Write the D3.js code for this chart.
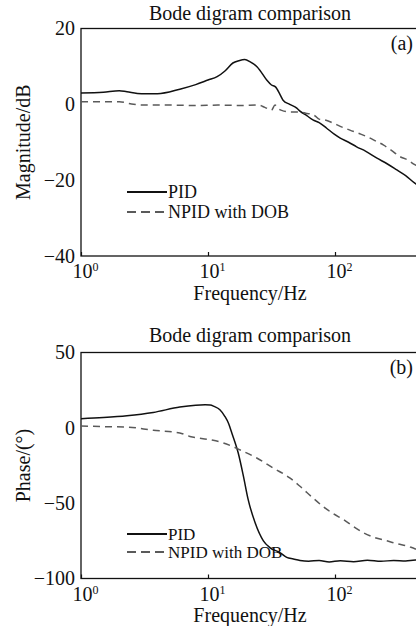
<!DOCTYPE html>
<html>
<head>
<meta charset="utf-8">
<script src="https://cdn.jsdelivr.net/npm/d3@7"></script>
<style>
    body { margin: 0; background: #fff; }
    svg { display: block; }
    text { font-family: "Liberation Serif", "DejaVu Serif", serif; fill: #111; }
</style>
</head>
<body>
<div id="chart"></div>
<script>
// frequency ticks shared by both panels
let xTicks = [1, 10, 100];

// (a) magnitude in dB
let magFreqPID = [1, 1.5, 2, 2.3, 3, 4, 6, 8, 10, 11.8, 13.6, 15.7, 17.5, 19.5, 21.5, 24.3, 25.6, 29, 31.6, 34, 37, 39, 44, 50, 53, 60, 67, 75, 86, 98, 110, 128, 148, 175, 214, 255, 307, 360, 425, 500];
let magPID = [3.0, 3.2, 3.6, 3.3, 2.8, 2.8, 4.0, 5.2, 6.4, 7.3, 8.8, 10.9, 11.5, 11.8, 11.2, 9.9, 9.0, 6.4, 5.1, 4.6, 2.5, 1.1, 0.0, -1.0, -1.8, -3.0, -4.1, -4.8, -6.3, -7.8, -8.9, -10.0, -11.2, -12.4, -14.2, -15.6, -17.3, -18.8, -20.8, -22.2];
let magFreqNPID = [1, 1.5, 2, 2.5, 3, 5, 8, 12, 18, 25, 28, 31.6, 33.7, 36, 38, 44, 53, 60, 65, 70, 75, 85, 96, 110, 131, 155, 178, 210, 240, 280, 325, 370, 425, 500];
let magNPID = [0.7, 0.7, 0.7, 0.1, -0.2, -0.2, -0.3, -0.2, -0.3, -0.2, -0.8, -1.5, -0.2, -1.2, -1.6, -2.0, -2.0, -2.4, -2.6, -3.1, -3.9, -4.2, -4.9, -5.8, -6.8, -7.7, -8.5, -9.7, -10.7, -12.2, -13.8, -14.6, -15.9, -17.0];

// (b) phase in degrees
let phaseFreqPID = [1, 1.5, 2.3, 3.7, 6, 8, 9.5, 10.4, 11.2, 12.4, 13.6, 14.5, 15.4, 17.3, 19, 20.7, 23.5, 27.3, 30.7, 36.8, 41.7, 47, 53, 62, 75, 90, 110, 140, 180, 230, 290, 360, 430, 500];
let phasePID = [6.0, 6.8, 8.0, 10.2, 13.8, 15.0, 15.3, 15.2, 14.2, 12.0, 7.5, 3.0, -3.4, -16.7, -32.0, -47.5, -63.0, -75.0, -79.5, -82.8, -86.0, -87.0, -88.0, -88.5, -88.0, -89.0, -88.2, -88.8, -87.9, -88.6, -88.0, -88.4, -87.8, -88.2];
let phaseFreqNPID = [1, 1.5, 2.3, 3.7, 6, 7.2, 10.4, 13.2, 17.7, 24.2, 32.5, 44, 53, 67, 80, 96, 116, 140, 167, 200, 256, 310, 370, 425, 500];
let phaseNPID = [1.3, 0.8, 0.5, -1.6, -3.4, -5.7, -7.9, -10.0, -14.5, -20.0, -26.6, -33.2, -38.8, -46.5, -52.0, -56.8, -60.8, -65.5, -69.6, -72.5, -75.0, -77.0, -78.4, -80.2, -81.5];

let seriesNames = ["PID", "NPID with DOB"];


class BodePanel {

    constructor(svg, opts) {
        this.svg = svg;
        this.opts = opts;
        this.initVis();
    }

    initVis() {
        let vis = this;
        let o = vis.opts;

        vis.x = d3.scaleLog()
            .domain([1, 500])
            .range([81, 81 + 127 * Math.log10(500)]);

        vis.y = d3.scaleLinear()
            .domain(o.yDomain)
            .range([o.bottom, o.top]);

        vis.g = vis.svg.append("g");

        // title
        vis.g.append("text")
            .attr("x", 250)
            .attr("y", o.titleY)
            .attr("text-anchor", "middle")
            .style("font-size", "20px")
            .text("Bode digram comparison");

        // frame
        vis.g.append("rect")
            .attr("x", vis.x.range()[0])
            .attr("y", o.top)
            .attr("width", vis.x.range()[1] - vis.x.range()[0])
            .attr("height", o.bottom - o.top)
            .attr("fill", "none")
            .attr("stroke", "#111")
            .attr("stroke-width", 1.3);

        // x axis, ticks pointing inward
        let xAxis = d3.axisBottom(vis.x)
            .tickValues(xTicks)
            .tickSize(-4)
            .tickSizeOuter(0)
            .tickPadding(0)
            .tickFormat("");

        let gx = vis.g.append("g")
            .attr("class", "x-axis axis")
            .attr("transform", `translate(0, ${o.bottom})`)
            .call(xAxis);
        gx.select(".domain").remove();
        gx.selectAll(".tick line").attr("stroke", "#111").attr("stroke-width", 1.2);

        // "10" centred on the tick, exponent hanging to the right
        let lbl = gx.selectAll(".tick text")
            .attr("x", 4)
            .attr("y", 22)
            .attr("dy", null)
            .attr("fill", "#111")
            .style("font-size", "20px")
            .attr("text-anchor", "middle");
        lbl.append("tspan").text("10");
        lbl.append("tspan")
            .attr("dy", -7)
            .style("font-size", "12px")
            .text(d => Math.round(Math.log10(d)));

        // y axis, labels only
        let yAxis = d3.axisLeft(vis.y)
            .tickValues(o.yTicks)
            .tickSize(0)
            .tickSizeOuter(0)
            .tickPadding(6);

        let gy = vis.g.append("g")
            .attr("class", "y-axis axis")
            .attr("transform", `translate(${vis.x.range()[0]}, 0)`)
            .call(yAxis);
        gy.select(".domain").remove();
        gy.selectAll(".tick text")
            .attr("fill", "#111")
            .style("font-size", "20px")
            .text(d => d < 0 ? "\u2212" + Math.abs(d) : d);

        // axis titles
        vis.g.append("text")
            .attr("x", 250)
            .attr("y", o.bottom + o.xLabelGap)
            .attr("text-anchor", "middle")
            .style("font-size", "20px")
            .text("Frequency/Hz");

        vis.g.append("text")
            .attr("transform", `translate(30, ${(o.top + o.bottom) / 2}) rotate(-90)`)
            .attr("text-anchor", "middle")
            .style("font-size", "20px")
            .text(o.yLabel);

        // panel tag
        vis.g.append("text")
            .attr("x", 413)
            .attr("y", o.top + 21)
            .attr("text-anchor", "end")
            .style("font-size", "20px")
            .text(o.tag);

        vis.updateVis();
    }

    updateVis() {
        let vis = this;
        let o = vis.opts;

        let line = d3.line()
            .x(d => vis.x(d[0]))
            .y(d => vis.y(d[1]))
            .curve(d3.curveMonotoneX);

        let clipId = "clip-" + o.tag.replace(/\W/g, "");
        vis.svg.append("clipPath")
            .attr("id", clipId)
            .append("rect")
            .attr("x", vis.x.range()[0])
            .attr("y", o.top)
            .attr("width", vis.x.range()[1] - vis.x.range()[0])
            .attr("height", o.bottom - o.top);

        let styles = [
            {stroke: "#111", width: 1.5, dash: null},
            {stroke: "#5a5a5a", width: 1.5, dash: "7,5"}
        ];

        vis.g.append("g")
            .attr("clip-path", `url(#${clipId})`)
            .selectAll(".curve")
            .data(o.series)
            .join("path")
            .attr("class", "curve")
            .attr("d", d => line(d3.zip(d.f, d.v)))
            .attr("fill", "none")
            .attr("stroke", (d, i) => styles[i].stroke)
            .attr("stroke-width", (d, i) => styles[i].width)
            .attr("stroke-dasharray", (d, i) => styles[i].dash)
            .attr("stroke-linejoin", "round");

        // legend
        let leg = vis.g.append("g");
        let items = leg.selectAll("g")
            .data(seriesNames)
            .join("g")
            .attr("transform", (d, i) => `translate(127, ${o.legendY[i]})`);
        items.append("line")
            .attr("x1", 0).attr("x2", 40)
            .attr("stroke", (d, i) => styles[i].stroke)
            .attr("stroke-width", (d, i) => styles[i].width + 0.3)
            .attr("stroke-dasharray", (d, i) => styles[i].dash ? "9,5" : null);
        items.append("text")
            .attr("x", 41)
            .attr("y", o.legendFont * 0.35)
            .style("font-size", o.legendFont + "px")
            .text(d => d);
    }
}

let svg = d3.select("#chart").append("svg")
    .attr("width", 416)
    .attr("height", 626);

new BodePanel(svg, {
    tag: "(a)",
    top: 28.5, bottom: 256, titleY: 20, xLabelGap: 44,
    yDomain: [-40, 20], yTicks: [-40, -20, 0, 20],
    yLabel: "Magnitude/dB",
    legendY: [192, 212], legendFont: 18,
    series: [{f: magFreqPID, v: magPID}, {f: magFreqNPID, v: magNPID}]
});

new BodePanel(svg, {
    tag: "(b)",
    top: 352.5, bottom: 578.5, titleY: 342, xLabelGap: 43,
    yDomain: [-100, 50], yTicks: [-100, -50, 0, 50],
    yLabel: "Phase/(\u00b0)",
    legendY: [534, 552], legendFont: 17,
    series: [{f: phaseFreqPID, v: phasePID}, {f: phaseFreqNPID, v: phaseNPID}]
});
</script>
</body>
</html>
